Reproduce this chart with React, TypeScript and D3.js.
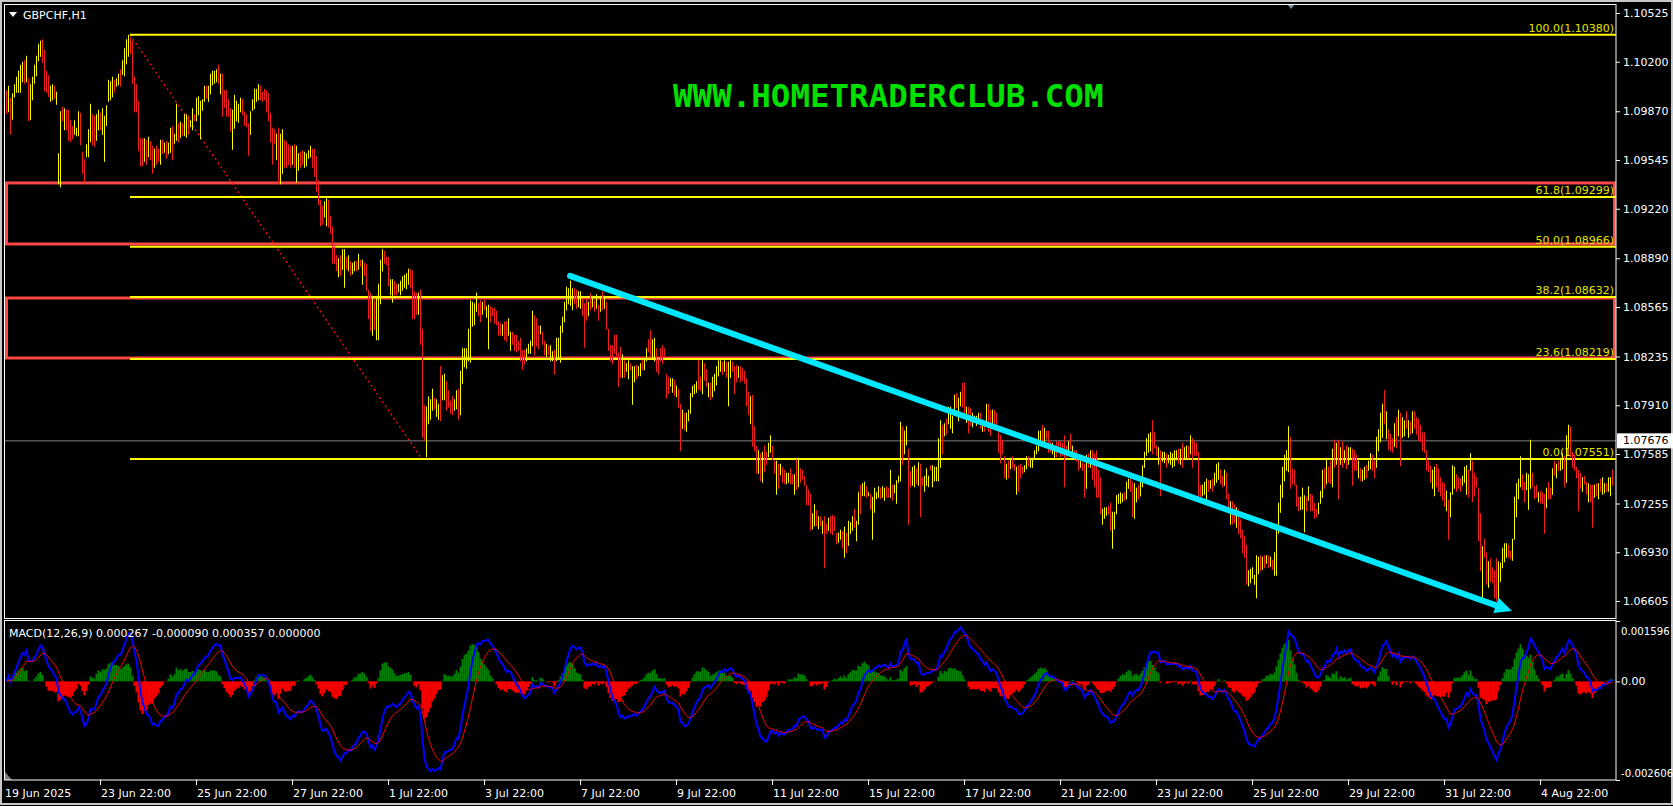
import * as d3 from "d3";

// GBPCHF H1 bars, each pair = [open side, close side] in pips above BASE
const BASE = 1.06;

const leg1 = [
  401,386, 387,404, 396,372, 382,399, 397,405, 400,410, 400,414, 400,418, 407,420, 421,406,
  407,424, 409,381, 382,405, 395,410, 406,418, 411,424, 421,432, 424,434, 435,420, 428,401,
  414,400, 411,397, 394,404, 395,405, 404,396, 392,400, 339,359, 337,387, 390,381, 375,389,
  388,375, 388,368, 381,367, 377,369, 372,381, 371,376, 371,387, 386,365, 360,346, 355,340,
  357,365, 357,375, 367,392, 385,365, 384,364, 368,385, 375,388, 386,375, 372,389, 354,384,
  378,391, 394,408, 395,407, 397,410, 408,400, 404,409, 405,412, 415,404, 412,421, 411,429,
  419,435, 424,438, 436,426, 434,406, 410,387, 405,387, 394,361, 369,351, 369,351, 354,369,
  368,352, 357,370, 367,355, 364,346, 350,362, 364,352, 362,354, 352,368, 368,359, 360,366,
  367,356, 359,366, 360,376, 377,355, 366,372, 368,392, 379,367, 370,380, 379,371, 371,385,
  370,385, 384,372, 377,381, 375,389, 385,381, 381,396, 385,397, 369,394, 388,395, 394,404,
];
const leg2 = [
  404,396, 394,404, 399,412, 405,414, 406,414, 407,415, 418,406, 399,412, 412,384, 401,390,
  401,384, 395,384, 389,374, 362,388, 376,398, 381,394, 380,392, 387,396, 395,385, 387,378,
  385,377, 379,358, 372,387, 388,395, 389,402, 394,402, 395,405, 404,395, 400,394, 402,395,
  401,387, 399,381, 386,367, 376,352, 375,366, 355,372, 376,339, 339,372, 346,375, 368,350,
  367,350, 365,352, 364,350, 352,364, 365,350, 340,364, 348,359, 360,350, 361,352, 350,360,
  351,359, 356,361, 357,364, 362,350, 362,344, 357,334, 341,325, 328,311, 324,312, 317,327,
  311,329, 328,310, 317,306, 310,286, 297,286, 291,281, 277,289, 291,278, 282,295, 270,295,
  290,282, 281,291, 287,278, 279,286, 281,287, 287,281, 282,292, 288,284, 272,288, 286,278,
  285,268, 268,249, 266,241, 238,264, 261,242, 235,264, 235,272, 259,288, 281,295, 294,286,
  290,285, 290,271, 265,275, 260,275, 274,265, 272,265, 267,272, 265,274, 268,277, 270,278,
  269,279, 272,282, 282,270,
];
const leg3 = [
  281,249, 267,249, 266,252, 252,266, 268,232, 242,170, 191,168, 157,190, 179,197, 182,195,
  188,202, 196,189, 184,195, 182,192, 217,181, 195,211, 195,212, 207,188, 201,190, 194,186,
  197,185, 188,195, 189,201, 202,182, 185,214, 206,229, 217,229, 216,229, 221,242, 220,261,
  244,260, 245,259, 254,266, 259,251, 261,247, 252,260, 262,255, 250,257, 229,258, 257,247,
  256,251, 256,246, 254,245, 247,238, 246,238, 238,245, 247,235, 247,234, 238,249, 228,240,
  240,232, 238,228, 238,227, 234,228, 236,221, 228,215, 228,219, 221,229, 226,232, 226,234,
  231,254, 251,225, 249,231, 244,229, 239,244, 240,232, 234,225, 224,232, 231,225, 221,231,
  221,227, 228,212, 221,236, 222,236, 220,244, 240,250, 247,260, 255,270, 259,269, 258,274,
  255,269, 269,259, 268,256, 257,267, 256,267, 262,251, 259,230, 262,248, 251,260, 266,255,
  257,264, 261,254, 256,265, 258,248, 254,264, 267,255, 256,264, 260,242, 242,228, 231,221,
];
const leg4 = [
  231,219, 238,226, 238,224, 226,204, 230,210, 210,225, 221,210, 214,219, 209,221, 219,215,
  192,217, 207,217, 218,209, 211,217, 211,219, 221,215, 215,222, 221,229, 235,227, 241,224,
  222,235, 221,236, 229,214, 222,212, 229,221, 231,219, 229,224, 212,196, 210,199, 204,209,
  200,209, 208,198, 197,204, 202,190, 192,161, 176,188, 186,175, 174,186, 181,188, 186,199,
  197,204, 199,205, 200,207, 221,202, 210,201, 199,221, 219,208, 215,204, 197,206, 206,195,
  197,210, 201,212, 205,217, 211,221, 214,221, 220,212, 214,221, 220,210, 191,220, 210,221,
  220,214, 217,199, 218,207, 210,217, 217,207, 216,208, 214,206, 209,191, 200,185, 179,197,
  198,164, 177,161, 164,146, 146,161, 159,141, 140,160, 164,147, 160,152, 157,166, 160,171,
  164,155, 154,146, 132,154, 152,136, 145,152, 150,140, 148,139, 139,146, 140,146, 149,139,
  145,139, 132,145, 155,135, 137,156, 149,140, 148,142, 144,138, 138,125, 135,125, 132,108,
  109,119, 111,125,
];
const leg5 = [
  121,111, 109,117, 117,111, 106,114, 117,83, 112,106, 108,116, 117,106, 118,105, 117,108,
  106,99, 100,106, 102,108, 107,96, 90,110, 106,93, 98,114, 106,113, 108,117, 122,110,
  101,114, 112,133, 138,119, 131,139, 131,140, 137,130, 131,133, 132,122, 102,130, 120,136,
  129,133, 130,137, 136,129, 130,137, 128,136, 137,130, 136,130, 130,148, 138,128, 133,138,
  126,141, 140,144, 141,180, 177,152, 159,174, 165,177, 162,112, 147,137, 138,150, 137,151,
  149,139, 138,153, 152,117, 143,138, 134,144, 138,149, 137,144, 151,148, 137,151, 141,150,
  141,150, 141,169, 150,181, 178,159, 171,179, 182,172, 179,190, 176,190, 173,184, 186,198,
  199,190, 181,196, 191,200, 206,190, 206,185, 180,190, 190,173, 189,178, 177,186, 181,184,
  178,184, 180,186, 186,176, 174,180, 180,174, 178,192, 192,174, 188,171, 179,188, 188,179,
  186,176, 174,160, 171,153, 168,159, 157,143, 142,152, 154,143, 149,156, 157,150, 152,148,
];
const leg6 = [
  132,150, 151,134, 152,143, 150,146, 147,151, 149,157, 157,151, 150,156, 150,156, 156,161,
  159,164, 161,174, 167,174, 178,167, 164,176, 174,169, 174,160, 167,160, 159,166, 156,161,
  167,157, 167,160, 167,157, 166,158, 171,137, 164,157, 159,167, 172,162, 160,164, 161,156,
  161,154, 156,148, 150,154, 153,148, 152,130, 136,158, 159,150, 150,161, 161,142, 159,137,
  161,130, 148,130, 143,119, 112,122, 116,123, 118,123, 124,119, 126,108, 96,120, 109,120,
  119,131, 126,132, 126,133, 127,132, 133,128, 129,140, 136,142, 143,134, 140,117, 116,139,
  127,136, 138,129, 131,143, 137,151, 150,160, 158,169, 160,172, 161,173, 181,159, 173,163,
  164,158, 152,163, 161,131, 154,160, 153,160, 159,150, 153,158, 152,160, 150,159, 151,161,
  155,161, 162,153, 152,162, 166,150, 156,163, 156,164, 164,156, 159,171, 169,150, 167,158,
  166,158, 160,130, 138,129, 131,138, 132,140, 128,142, 141,134, 136,141, 142,134, 138,146,
];
const leg7 = [
  140,152, 142,153, 148,139, 144,137, 138,148, 146,129, 132,121, 112,127, 127,112, 125,113,
  110,123, 122,106, 115,103, 108,93, 104,90, 98,72, 71,81, 73,82, 76,83, 72,78,
  63,91, 79,90, 91,81, 82,90, 91,83, 86,91, 91,83, 84,90, 88,82, 78,93,
  78,112, 106,126, 120,138, 130,150, 141,158, 148,161, 147,177, 170,136, 149,139, 148,138,
  138,124, 130,121, 122,130, 122,136, 107,131, 130,121, 128,137, 132,121, 131,121, 126,116,
  122,117, 119,126, 126,134, 130,148, 149,136, 139,156, 150,140, 154,139, 137,162, 168,150,
  152,166, 168,129, 152,163, 167,150, 153,161, 164,149, 152,163, 156,163, 162,138, 161,148,
  158,148, 143,154, 149,141, 141,148, 142,150, 151,143, 148,154, 149,159, 158,148, 154,143,
  150,170, 161,175, 167,186, 170,192, 201,179, 169,187, 175,162, 172,161, 169,160, 164,179,
  183,163, 171,188, 186,151, 170,183, 171,181, 187,176, 170,181, 180,172, 173,187, 187,176,
];
const leg8 = [
  183,172, 182,168, 178,167, 173,161, 173,160, 161,148, 154,147, 151,140, 136,148, 131,150,
  152,137, 149,134, 143,131, 140,128, 139,124, 121,134, 128,102, 117,133, 132,151, 136,150,
  145,134, 143,136, 142,134, 138,144, 140,150, 132,151, 148,130, 148,159, 154,127, 146,131,
  143,137, 136,101, 119,81, 63,97, 102,90, 93,72, 70,87, 89,74, 83,73, 81,63,
  89,61, 61,87, 74,86, 83,96, 87,99, 90,99, 98,90, 94,89, 88,102, 102,130,
  117,139, 129,142, 137,157, 145,135, 140,127, 135,146, 122,145, 136,168, 146,137, 137,129,
  138,130, 127,133, 134,126, 133,126, 132,106, 123,136, 140,129, 136,129, 132,149, 154,145,
  143,152, 154,148, 148,156, 149,159, 157,137, 140,171, 163,178, 177,157, 160,150, 158,148,
  150,143, 148,121, 146,136, 134,143, 144,139, 140,132, 127,139, 138,127, 138,110, 130,138,
  139,131, 129,139, 142,134, 132,143, 133,139, 139,134, 134,143, 131,143, 148,138,
];

const priceTicks = [1.10525, 1.102, 1.0987, 1.09545, 1.0922, 1.0889, 1.08565, 1.08235, 1.0791, 1.07585, 1.07255, 1.0693, 1.06605];
const dateLabels = ["19 Jun 2025", "23 Jun 22:00", "25 Jun 22:00", "27 Jun 22:00", "1 Jul 22:00", "3 Jul 22:00", "7 Jul 22:00", "9 Jul 22:00", "11 Jul 22:00", "15 Jul 22:00", "17 Jul 22:00", "21 Jul 22:00", "23 Jul 22:00", "25 Jul 22:00", "29 Jul 22:00", "31 Jul 22:00", "4 Aug 22:00"];
const dateTickBars = [0, 47, 95, 143, 191, 239, 287, 335, 383, 431, 479, 527, 575, 623, 671, 719, 767];

const fibLevels = [100.0, 61.8, 50.0, 38.2, 23.6, 0.0];
const fibPrices = [1.1038, 1.09299, 1.08966, 1.08632, 1.08219, 1.07551];
const fibStart = { bar: 62, price: 1.1038 };
const fibEnd = { bar: 208, price: 1.07551 };

const zoneTops = [1.09392, 1.08625];
const zoneBottoms = [1.08985, 1.08225];

const arrowFrom = { bar: 282, price: 1.08772 };
const arrowTo = { bar: 753, price: 1.06538 };

const currentPrice = 1.07676;
const macdTicks = [0.001596, 0, -0.002606];
const macdTickText = ["0.001596", "0.00", "-0.002606"];
const macdLegend = "MACD(12,26,9) 0.000267 -0.000090 0.000357 0.000000";

const W = 1673;
const H = 806;
const FONT = "DejaVu Sans";

function ema(vals: number[], n: number) {
  const k = 2 / (n + 1);
  let prev = vals[0];
  return vals.map((v, i) => (prev = i === 0 ? v : v * k + prev * (1 - k)));
}

export default function App() {
  const pairs = [leg1, leg2, leg3, leg4, leg5, leg6, leg7, leg8].flat();
  const bars = d3.range(pairs.length / 2).map((i) => {
    const o = BASE + pairs[2 * i] / 1e4;
    const c = BASE + pairs[2 * i + 1] / 1e4;
    return { o, c, h: Math.max(o, c), l: Math.min(o, c) };
  });

  const closes = bars.map((b) => b.c);
  const e12 = ema(closes, 12);
  const e26 = ema(closes, 26);
  const macd = closes.map((_, i) => e12[i] - e26[i]);
  const signal = ema(macd, 9);
  const hist = macd.map((m, i) => m - signal[i]);

  const right = 1616;
  const x = d3.scaleLinear().domain([0, bars.length - 1]).range([6, 6 + 2 * (bars.length - 1)]);
  const y = d3.scaleLinear().domain([1.06605, 1.10525]).range([601, 13]);
  const ym = d3.scaleLinear().domain([-0.002606, 0.001596]).range([780, 621]);

  const macdLine = d3.line<number>().x((_, i) => x(i) + 0.5).y((d) => ym(d));

  // arrow geometry
  const ax1 = x(arrowFrom.bar), ay1 = y(arrowFrom.price);
  const ax2 = x(arrowTo.bar), ay2 = y(arrowTo.price);
  const len = Math.hypot(ax2 - ax1, ay2 - ay1);
  const ux = (ax2 - ax1) / len, uy = (ay2 - ay1) / len;
  const hl = 17, hw = 8;
  const bx = ax2 - ux * hl, by = ay2 - uy * hl;
  const head = [
    [ax2, ay2],
    [bx - uy * hw, by + ux * hw],
    [bx + uy * hw, by - ux * hw],
  ].map((p) => p.join(",")).join(" ");

  return (
    <svg width={W} height={H} style={{ position: "fixed", left: 0, top: 0, background: "#000" }}>
      <defs>
        <clipPath id="mainClip">
          <rect x={5} y={5} width={right - 5} height={613} />
        </clipPath>
        <clipPath id="macdClip">
          <rect x={5} y={622} width={right - 5} height={157} />
        </clipPath>
      </defs>
      <rect x={0} y={0} width={W} height={H} fill="#000" />
      {/* window edge */}
      <rect x={1} y={1} width={W - 2} height={H - 3} fill="none" stroke="#c8c8c8" strokeWidth={2} />

      <g clipPath="url(#mainClip)">
        {/* current price line */}
        <line x1={5} x2={right} y1={y(currentPrice) + 0.5} y2={y(currentPrice) + 0.5} stroke="#808080" strokeWidth={1} />

        {/* zones */}
        {zoneTops.map((t, i) => (
          <rect key={i} x={6.5} y={y(t)} width={right - 8} height={y(zoneBottoms[i]) - y(t)} fill="none" stroke="#ff4646" strokeWidth={3} />
        ))}

        {/* fibo */}
        <line x1={x(fibStart.bar)} y1={y(fibStart.price)} x2={x(fibEnd.bar)} y2={y(fibEnd.price)} stroke="#ff1010" strokeWidth={1.3} strokeDasharray="2,3" />
        {fibPrices.map((p, i) => (
          <g key={i}>
            <line x1={x(fibStart.bar)} x2={right} y1={y(p)} y2={y(p)} stroke="#ffff00" strokeWidth={2} />
            <text x={right - 2} y={y(p) - 3} textAnchor="end" fill="#e4e400" fontFamily={FONT} fontSize={11}>
              {`${fibLevels[i].toFixed(1)}(${p.toFixed(5)})`}
            </text>
          </g>
        ))}

        {/* bars */}
        {bars.map((b, i) => (
          <rect
            key={i}
            x={x(i)}
            y={y(b.h)}
            width={1}
            height={Math.max(1, y(b.l) - y(b.h) + 1)}
            fill={b.c > b.o ? "#ffff00" : b.c < b.o ? "#f21c1c" : "#00c000"}
          />
        ))}

        {/* arrow */}
        <line x1={ax1} y1={ay1} x2={bx} y2={by} stroke="#00e8ff" strokeWidth={6} strokeLinecap="round" />
        <polygon points={head} fill="#00e8ff" />
      </g>

      {/* watermark */}
      <text x={673} y={107} fill="#00e000" fontFamily="DejaVu Sans Mono" fontWeight="bold" fontSize={32.5}>
        WWW.HOMETRADERCLUB.COM
      </text>

      {/* title */}
      <polygon points="9,12 17,12 13,17" fill="#fff" />
      <text x={23} y={19} fill="#fff" fontFamily={FONT} fontSize={11}>GBPCHF,H1</text>
      <polygon points="1287,4 1295,4 1291,9" fill="#7a8a9a" />

      {/* MACD */}
      <g clipPath="url(#macdClip)">
        {hist.map((h, i) => (
          <rect
            key={i}
            x={x(i) - 0.5}
            y={Math.min(ym(h), ym(0))}
            width={2}
            height={Math.abs(ym(h) - ym(0))}
            fill={h >= 0 ? "#008000" : "#ff0000"}
          />
        ))}
        <path d={macdLine(macd) ?? ""} fill="none" stroke="#0000ff" strokeWidth={2} />
        <path d={macdLine(signal) ?? ""} fill="none" stroke="#ff0000" strokeWidth={1} />
      </g>
      <text x={9} y={637} fill="#fff" fontFamily={FONT} fontSize={11}>{macdLegend}</text>
      <polygon points="5,772 5,780 12,780" fill="#808080" />

      {/* frames */}
      <rect x={4.5} y={4.5} width={right - 4.5} height={614} fill="none" stroke="#fff" strokeWidth={1} />
      <rect x={4.5} y={620.5} width={right - 4.5} height={159.5} fill="none" stroke="#fff" strokeWidth={1} />

      {/* price axis */}
      {priceTicks.map((p) => (
        <g key={p}>
          <line x1={right} x2={right + 4} y1={y(p) + 0.5} y2={y(p) + 0.5} stroke="#fff" />
          <text x={right + 7} y={y(p) + 4} fill="#fff" fontFamily={FONT} fontSize={11}>{p.toFixed(5)}</text>
        </g>
      ))}
      <rect x={right + 1} y={y(currentPrice) - 7} width={W - right - 1} height={15} fill="#fff" />
      <text x={right + 7} y={y(currentPrice) + 4} fill="#000" fontFamily={FONT} fontSize={11}>{currentPrice.toFixed(5)}</text>

      {/* MACD axis */}
      {macdTicks.map((m, i) => (
        <g key={i}>
          <line x1={right} x2={right + 4} y1={ym(m) + 0.5} y2={ym(m) + 0.5} stroke="#fff" />
          <text
            x={right + 5}
            y={i === 0 ? ym(m) + 14 : i === 2 ? ym(m) - 3 : ym(m) + 4}
            fill="#fff"
            fontFamily={FONT}
            fontSize={i === 1 ? 11 : 10.2}
          >
            {macdTickText[i]}
          </text>
        </g>
      ))}

      {/* time axis */}
      {dateTickBars.map((b, i) => (
        <g key={i}>
          {i > 0 && <line x1={x(b) + 0.5} x2={x(b) + 0.5} y1={780} y2={785} stroke="#fff" />}
          <text x={i === 0 ? 5 : x(b) + 1} y={797} fill="#fff" fontFamily={FONT} fontSize={11}>{dateLabels[i]}</text>
        </g>
      ))}
    </svg>
  );
}
